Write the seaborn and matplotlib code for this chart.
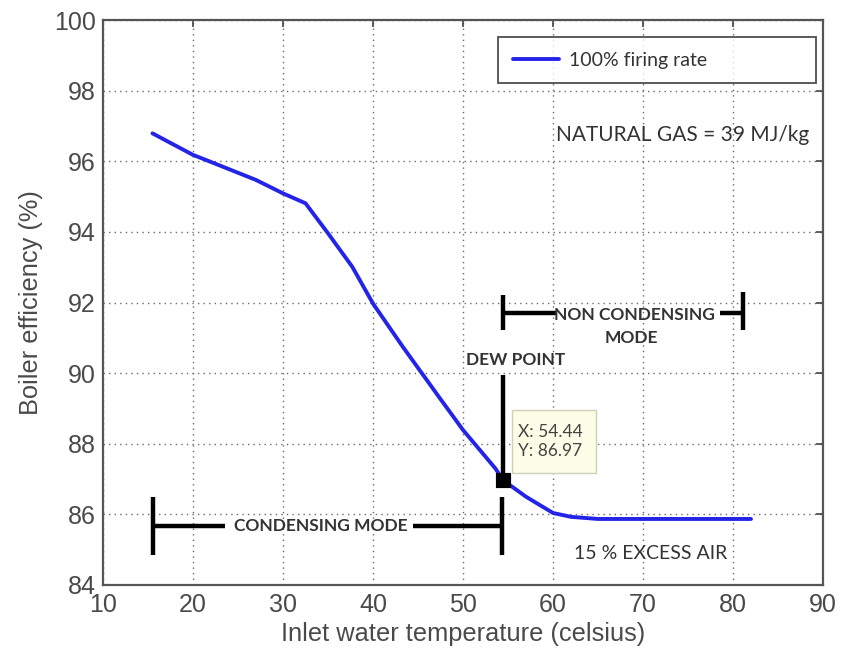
import matplotlib
matplotlib.use("Agg")
import matplotlib.pyplot as plt
import matplotlib.patches as patches
import seaborn as sns
import pandas as pd

# ---- data ----
temperature = [15.5, 20.0, 21.5, 27.0, 30.0, 32.5, 35.0, 37.7, 40.0, 43.3, 47.4,
               50.0, 53.6, 54.44, 57.0, 60.0, 62.0, 65.0, 70.0, 75.0, 82.0]
efficiency = [96.79, 96.18, 96.03, 95.47, 95.09, 94.81, 93.96, 93.01, 91.97, 90.75, 89.3,
              88.39, 87.3, 86.97, 86.5, 86.04, 85.93, 85.87, 85.87, 85.87, 85.87]
series_label = "100% firing rate"
dew_x = [54.44]
dew_y = [86.97]
x_ticks = [10, 20, 30, 40, 50, 60, 70, 80, 90]
y_ticks = [84, 86, 88, 90, 92, 94, 96, 98, 100]

df = pd.DataFrame({"temp": temperature, "eff": efficiency})

sns.set_style("white")
plt.rcParams["font.family"] = ["Liberation Sans", "DejaVu Sans"]

fig = plt.figure(figsize=(8.49, 6.56), dpi=100)
W, H = 849, 656
ax = fig.add_axes([103 / W, 1 - 585 / H, 720 / W, 565 / H])

sns.lineplot(data=df, x="temp", y="eff", ax=ax, color="#2424e8", lw=2.8,
             label=series_label, sort=False)

ax.set_xlim(10, 90)
ax.set_ylim(84, 100)
ax.set_xticks(x_ticks)
ax.set_yticks(y_ticks)
ax.set_xticklabels([str(v) for v in x_ticks])
ax.set_yticklabels([str(v) for v in y_ticks])

ax.grid(True, color="#6a6a6a", linestyle=(0, (1, 3)), linewidth=1.0)
for s in ax.spines.values():
    s.set_color("#555555")
    s.set_linewidth(1.6)
    s.set_visible(True)
ax.tick_params(direction="in", length=5, width=1.2, color="#444444",
               top=True, right=True, labelsize=18, labelcolor="#4a4a4a")
ax.tick_params(axis="x", pad=6)
ax.tick_params(axis="y", pad=5)
ax.set_xlabel("Inlet water temperature (celsius)", fontsize=18.3, color="#4a4a4a", labelpad=3)
ax.set_ylabel("Boiler efficiency (%)", fontsize=18.3, color="#4a4a4a", labelpad=8)

ann = dict(family=["Lato", "DejaVu Sans"], color="#333333")
k = dict(color="black", lw=3.2, solid_capstyle="butt")

# Condensing mode bracket
ax.plot([15.56, 15.56], [84.84, 86.49], **k)
ax.plot([54.3, 54.3], [84.84, 86.49], **k)
ax.plot([15.56, 23.6], [85.67, 85.67], **k)
ax.plot([44.4, 54.3], [85.67, 85.67], **k)
ax.text(34.2, 85.67, "CONDENSING MODE", ha="center", va="center",
        fontsize=12.5, fontweight="bold", **ann)

# Non condensing bracket
ax.plot([54.44, 54.44], [91.22, 92.2], **k)
ax.plot([81.1, 81.1], [91.22, 92.3], **k)
ax.plot([54.44, 60.3], [91.7, 91.7], **k)
ax.plot([78.6, 81.1], [91.7, 91.7], **k)
ax.text(69.0, 91.65, "NON CONDENSING", ha="center", va="center",
        fontsize=12.5, fontweight="bold", **ann)
ax.text(68.7, 91.0, "MODE", ha="center", va="center",
        fontsize=12.5, fontweight="bold", **ann)

# Dew point
ax.plot([dew_x[0], dew_x[0]], [89.94, dew_y[0]], **k)
ax.text(55.9, 90.37, "DEW POINT", ha="center", va="center",
        fontsize=12.5, fontweight="bold", **ann)
sns.scatterplot(x=dew_x, y=dew_y, ax=ax, marker="s", s=110, color="black",
                edgecolor="black", zorder=5, legend=False)

# Data tip
ax.add_patch(patches.Rectangle((55.44, 87.17), 9.34, 1.78, facecolor="#fdfde8",
                               edgecolor="#d0d0b8", lw=1, zorder=4))
ax.text(56.1, 88.06, f"X: {dew_x[0]:.2f}\nY: {dew_y[0]:.2f}", ha="left", va="center",
        fontsize=12.5, color="#444444", linespacing=1.25, zorder=6,
        family=["Lato", "DejaVu Sans"])

ax.text(74.4, 96.74, "NATURAL GAS = 39 MJ/kg", ha="center", va="center",
        fontsize=15, **ann)
ax.text(70.9, 84.89, "15 % EXCESS AIR", ha="center", va="center",
        fontsize=14, **ann)

leg = ax.legend(loc="upper left", bbox_to_anchor=(0.5486, 0.970, 0.4416, 0.0),
                mode="expand", borderaxespad=0.0, frameon=True, fancybox=False,
                handlelength=2.4, borderpad=0.75, handletextpad=0.5,
                prop={"family": ["Lato", "DejaVu Sans"], "size": 14})
leg.get_frame().set_edgecolor("#222222")
leg.get_frame().set_linewidth(1.3)
for t in leg.get_texts():
    t.set_color("#333333")

fig.savefig("out.png", dpi=100, facecolor="white")
